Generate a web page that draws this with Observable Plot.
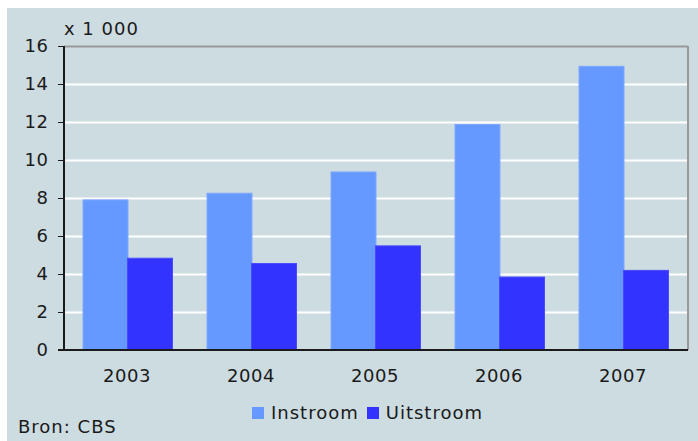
<!DOCTYPE html>
<html>
<head>
<meta charset="utf-8">
<script src="https://cdn.jsdelivr.net/npm/d3@7"></script>
<script src="https://cdn.jsdelivr.net/npm/@observablehq/plot@0.6"></script>
<style>
  html, body { margin: 0; padding: 0; background: #ffffff; }
  #wrap { position: relative; width: 698px; height: 441px; overflow: hidden; background: #ffffff; font-family: "DejaVu Sans", Verdana, sans-serif; color: #1a1a1a; }
  #panel { position: absolute; left: 7px; top: 8px; right: 0; bottom: 0; background: #cddce1; }
  #chart { position: absolute; left: 0; top: 0; }
  .txt { position: absolute; font-size: 18px; white-space: nowrap; line-height: 1; letter-spacing: 1px; }
  #unit { left: 64px; top: 20px; }
  #source { left: 18px; top: 418px; }
  #legend { position: absolute; top: 404px; left: 252px; font-size: 18px; display: flex; align-items: center; white-space: nowrap; line-height: 1; letter-spacing: 1px; }
  .sw { width: 12px; height: 12px; display: inline-block; margin-right: 7px; }
</style>
</head>
<body>
<div id="wrap">
  <div id="panel"></div>
  <div id="chart"></div>
  <div class="txt" id="unit">x 1 000</div>
  <div id="legend"></div>
  <div class="txt" id="source">Bron: CBS</div>
</div>
<script>
const years = ["2003", "2004", "2005", "2006", "2007"];
const instroom = [7.9, 8.25, 9.37, 11.87, 14.93];
const uitstroom = [4.83, 4.55, 5.48, 3.84, 4.19];
const yTicks = [0, 2, 4, 6, 8, 10, 12, 14, 16];
const seriesNames = ["Instroom", "Uitstroom"];
const seriesColors = ["#6699ff", "#3333ff"];

const dataIn = years.map((y, i) => ({year: y, value: instroom[i]}));
const dataOut = years.map((y, i) => ({year: y, value: uitstroom[i]}));

const plot = Plot.plot({
  width: 698,
  height: 390,
  marginLeft: 64,
  marginRight: 10,
  marginTop: 46,
  marginBottom: 40,
  style: { background: "transparent", fontFamily: "DejaVu Sans, Verdana, sans-serif", fontSize: "18px", color: "#1a1a1a", overflow: "visible", letterSpacing: "0.5px" },
  x: { type: "band", domain: years, paddingInner: 0.64, paddingOuter: 0.32, label: null },
  y: { domain: [0, 16], label: null },
  marks: [
    Plot.gridY(yTicks.filter(t => t > 0 && t < 16), { stroke: "#ffffff", strokeOpacity: 1, strokeWidth: 2 }),
    Plot.barY(dataIn, { x: "year", y: "value", fill: seriesColors[0], dx: -23, stroke: "#7fa8ff", strokeWidth: 1 }),
    Plot.barY(dataOut, { x: "year", y: "value", fill: seriesColors[1], dx: 21.5, stroke: "#4a4aff", strokeWidth: 1 }),
    Plot.ruleY([16], { stroke: "#999999", strokeWidth: 2 }),
    Plot.axisY(yTicks, { tickSize: 6, tickPadding: 10, stroke: "#1a1a1a", fill: "#1a1a1a", fontSize: 18, tickFormat: d => d }),
    Plot.axisX({ tickSize: 0, tickPadding: 19, fill: "#1a1a1a", fontSize: 18, dx: -2 })
  ]
});
document.getElementById("chart").appendChild(plot);

// frame lines placed through the plot's own scales
const svg = d3.select(plot);
const ys = plot.scale("y");
const left = 64, right = 688;
svg.append("line").attr("x1", right).attr("x2", right).attr("y1", ys.apply(16)).attr("y2", ys.apply(0))
  .attr("stroke", "#999999").attr("stroke-width", 2);
svg.append("line").attr("x1", left).attr("x2", left).attr("y1", ys.apply(16)).attr("y2", ys.apply(0))
  .attr("stroke", "#1a1a1a").attr("stroke-width", 2);
svg.append("line").attr("x1", left - 6).attr("x2", right).attr("y1", ys.apply(0)).attr("y2", ys.apply(0))
  .attr("stroke", "#1a1a1a").attr("stroke-width", 2);

const legend = document.getElementById("legend");
seriesNames.forEach((n, i) => {
  const sw = document.createElement("span");
  sw.className = "sw";
  sw.style.background = seriesColors[i];
  if (i > 0) sw.style.marginLeft = "8px";
  legend.appendChild(sw);
  const t = document.createElement("span");
  t.textContent = n;
  legend.appendChild(t);
});
</script>
</body>
</html>
